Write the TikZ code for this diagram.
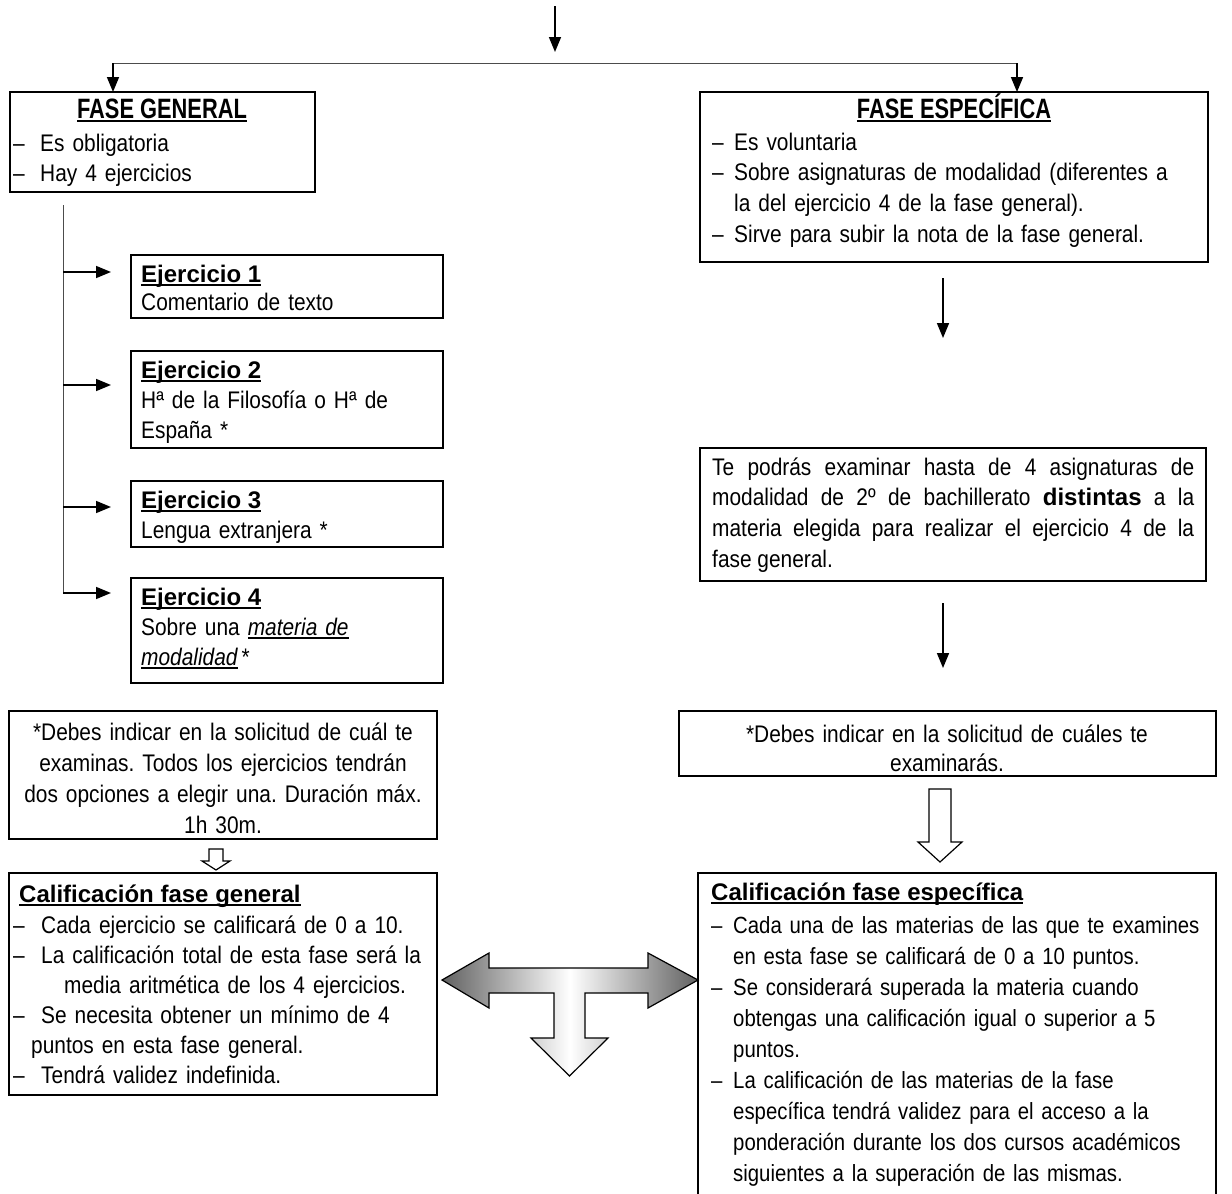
\documentclass[tikz,border=0pt]{standalone}
\usepackage{fontspec}
\setmainfont{Liberation Sans}[FakeStretch=0.87]
\newfontfamily\hfont{Liberation Sans}
\newfontfamily\tfont{Liberation Sans}[FakeStretch=0.78]
\usetikzlibrary{arrows.meta}
\newlength\dw
\setlength\dw{22pt}
\newcommand\ulx[1]{\setbox0=\hbox{#1}\rlap{\rule[-3.5pt]{\wd0}{1.6pt}}\box0}
\newcommand\itm[1]{\noindent\hangindent=\dw\hangafter=1\makebox[\dw][l]{–}#1\par}
\newcommand\nohy{\hyphenpenalty=10000\exhyphenpenalty=10000\frenchspacing}
\tikzset{
  box/.style={draw=black, line width=1.6pt, inner sep=0pt, outer sep=0pt, anchor=north west},
  txt/.style={inner sep=0pt, anchor=base west, align=left, font=\fontsize{24}{30}\selectfont\nohy},
  ctxt/.style={inner sep=0pt, anchor=base, align=center, font=\fontsize{24}{31}\selectfont\nohy},
  ttl/.style={inner sep=0pt, anchor=base, font=\tfont\bfseries\fontsize{28}{30}\selectfont},
  hd/.style={inner sep=0pt, anchor=base west, font=\hfont\bfseries\fontsize{24}{30}\selectfont},
  arr/.style={line width=1.6pt, -{Triangle[length=15pt,width=12pt]}},
  conn/.style={line width=1pt, draw=black!70},
  hollow/.style={draw=black, line width=1.2pt, fill=white}
}
\begin{document}
\begin{tikzpicture}[x=1pt,y=-1pt]
\useasboundingbox (0,0) rectangle (1232,1194);
% ---------- boxes ----------
\node[box, minimum width=305pt, minimum height=100pt] (fg) at (10,92) {};
\node[box, minimum width=508pt, minimum height=170pt] (fe) at (700,92) {};
\node[box, minimum width=312pt, minimum height=63pt] (e1) at (131,255) {};
\node[box, minimum width=312pt, minimum height=97pt] (e2) at (131,351) {};
\node[box, minimum width=312pt, minimum height=66pt] (e3) at (131,481) {};
\node[box, minimum width=312pt, minimum height=105pt] (e4) at (131,578) {};
\node[box, minimum width=428pt, minimum height=128pt] (ln) at (9,711) {};
\node[box, minimum width=428pt, minimum height=222pt] (cg) at (9,873) {};
\node[box, minimum width=506pt, minimum height=133pt] (tp) at (700,448) {};
\node[box, minimum width=537pt, minimum height=65pt] (rn) at (679,711) {};
\node[box, minimum width=518pt, minimum height=335pt] (ce) at (698,873) {};
% ---------- texts ----------
\node[ttl] (fgh) at (162,118) {\ulx{FASE GENERAL}};
\node[txt, text width=290pt, /utils/exec=\setlength\dw{27pt}] (fgt) at (13,151)
  {\itm{Es obligatoria}\itm{Hay 4 ejercicios}};
\node[ttl] (feh) at (954,118) {\ulx{FASE ESPECÍFICA}};
\node[txt, text width=490pt, font=\fontsize{24}{30.7}\selectfont\nohy] (fet) at (712,150)
  {\itm{Es voluntaria}\itm{Sobre asignaturas de modalidad (diferentes a\newline la del ejercicio 4 de la fase general).}\itm{Sirve para subir la nota de la fase general.}};
\node[hd] (e1h) at (141,282) {\ulx{Ejercicio 1}};
\node[txt, text width=295pt] (e1t) at (141,310) {Comentario de texto};
\node[hd] (e2h) at (141,378) {\ulx{Ejercicio 2}};
\node[txt, text width=295pt] (e2t) at (141,408) {Hª de la Filosofía o Hª de\newline España *};
\node[hd] (e3h) at (141,508) {\ulx{Ejercicio 3}};
\node[txt, text width=295pt] (e3t) at (141,538) {Lengua extranjera *};
\node[hd] (e4h) at (141,605) {\ulx{Ejercicio 4}};
\node[txt, text width=295pt] (e4t) at (141,635) {Sobre una \ulx{\itshape materia de}\newline\ulx{\itshape modalidad}\,*};
\node[ctxt, text width=420pt] (lnt) at (223,740)
  {*Debes indicar en la solicitud de cuál te\\ examinas. Todos los ejercicios tendrán\\ dos opciones a elegir una. Duración máx.\\ 1h 30m.};
\node[hd] (cgh) at (19,902) {\ulx{Calificación fase general}};
\node[txt, text width=420pt, /utils/exec=\setlength\dw{28pt}] (cgt) at (13,933)
  {\itm{Cada ejercicio se calificará de 0 a 10.}\itm{La calificación total de esta fase será la\newline\hspace*{23pt}media aritmética de los 4 ejercicios.}\itm{Se necesita obtener un mínimo de 4\newline\hspace*{-10pt}puntos en esta fase general.}\itm{Tendrá validez indefinida.}};
\node[txt, text width=482pt, align=justify, font=\fontsize{24}{30.7}\selectfont\nohy] (tpt) at (712,475)
  {Te podrás examinar hasta de 4 asignaturas de\linebreak modalidad de 2º de bachillerato {\hfont\bfseries distintas} a la\linebreak materia elegida para realizar el ejercicio 4 de la\linebreak fase general.};
\node[ctxt, text width=530pt, font=\fontsize{24}{29}\selectfont\nohy] (rnt) at (947,742)
  {*Debes indicar en la solicitud de cuáles te\\ examinarás.};
\node[hd] (ceh) at (711,900) {\ulx{Calificación fase específica}};
\node[txt, text width=503pt, font=\fontsize{23.4}{31}\selectfont\nohy] (cet) at (711,933)
  {\itm{Cada una de las materias de las que te examines\newline en esta fase se calificará de 0 a 10 puntos.}\itm{Se considerará superada la materia cuando\newline obtengas una calificación igual o superior a 5\newline puntos.}\itm{La calificación de las materias de la fase\newline específica tendrá validez para el acceso a la\newline ponderación durante los dos cursos académicos\newline siguientes a la superación de las mismas.}};
% ---------- connectors ----------
\coordinate (ta) at (555,6);
\coordinate (tb) at (555,52);
\coordinate (hl) at (113,63);
\coordinate (hr) at (1017,63);
\draw[arr] (ta) -- (tb);
\draw[conn] (hl) -- (hr);
\draw[arr] (hl) -- (hl |- fg.north);
\draw[arr] (hr) -- (hr |- fe.north);
\coordinate (vt) at (63,205);
\coordinate (a1) at (63,272);
\coordinate (a2) at (63,385);
\coordinate (a3) at (63,507);
\coordinate (a4) at (63,593);
\draw[conn] (vt) -- (a4);
\draw[arr, shorten >=20pt] (a1) -- (a1 -| e1.west);
\draw[arr, shorten >=20pt] (a2) -- (a2 -| e2.west);
\draw[arr, shorten >=20pt] (a3) -- (a3 -| e3.west);
\draw[arr, shorten >=20pt] (a4) -- (a4 -| e4.west);
\coordinate (r1s) at (943,278);
\coordinate (r1e) at (943,338);
\coordinate (r2s) at (943,603);
\coordinate (r2e) at (943,668);
\draw[arr] (r1s) -- (r1e);
\draw[arr] (r2s) -- (r2e);
% hollow arrows
\draw[hollow] (209,849) -- (223,849) -- (223,861) -- (230,861) -- (216,870) -- (202,861) -- (209,861) -- cycle;
\draw[hollow] (929,789) -- (951,789) -- (951,842) -- (962,842) -- (940,862) -- (918,842) -- (929,842) -- cycle;
% T arrow
\shade[left color=black!62, right color=black!62, middle color=white, draw=black, line width=1.2pt]
  (442,980) -- (489,953) -- (489,968) -- (648,968) -- (648,953) -- (698,980) -- (648,1008) -- (648,993)
  -- (585,993) -- (585,1038) -- (608,1038) -- (569.5,1076) -- (531,1038) -- (554,1038) -- (554,993)
  -- (489,993) -- (489,1008) -- cycle;
\end{tikzpicture}
\end{document}
